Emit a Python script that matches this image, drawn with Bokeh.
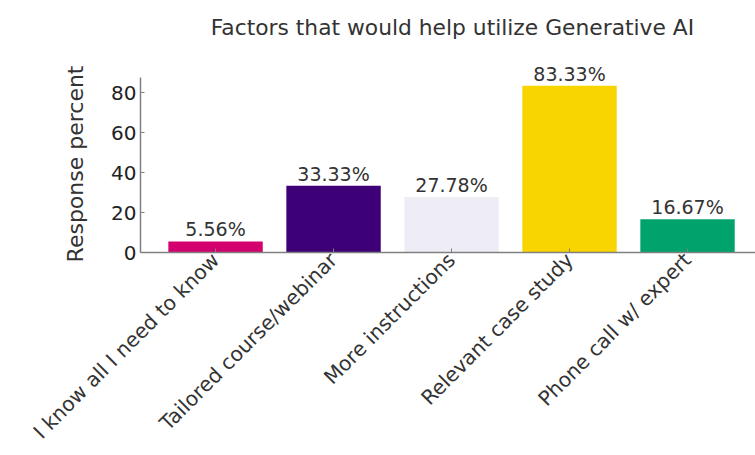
import math
from bokeh.plotting import figure
from bokeh.models import ColumnDataSource, Range1d, FixedTicker, LabelSet, Label, Title
from bokeh.core.properties import value
from bokeh.embed import file_html
from bokeh.resources import INLINE

categories = ["I know all I need to know", "Tailored course/webinar", "More instructions",
              "Relevant case study", "Phone call w/ expert"]
values = [5.56, 33.33, 27.78, 83.33, 16.67]
colors = ["#D4006E", "#3D0077", "#EEEDF5", "#F9D500", "#00A36C"]
y_ticks = [0, 20, 40, 60, 80]
title_text = "Factors that would help utilize Generative AI"
y_label = "Response percent"

xs = list(range(len(categories)))
src = ColumnDataSource(dict(
    x=xs, top=values, color=colors,
    label=[f"{v:.2f}%" for v in values],
))

FONT = "DejaVu Sans"
TXT = "#333333"

y_axis_top = max(values) * 1.05

p = figure(width=755, height=455, output_backend="svg", toolbar_location=None,
           x_range=Range1d(-0.636, 4.576), y_range=Range1d(0, 126),
           min_border_left=140, min_border_right=0, min_border_top=0, min_border_bottom=203)

p.vbar(x="x", top="top", bottom=0, width=0.8, color="color", line_color=None, source=src)

labels = LabelSet(x="x", y="top", text="label", source=src, text_align="center",
                  text_baseline="bottom", y_offset=1, text_font=value(FONT),
                  text_font_size="19px", text_color=TXT)
p.add_layout(labels)

p.add_layout(Label(x=2.008, y=112.5, text=title_text, text_align="center",
                   text_baseline="middle", text_font=FONT,
                   text_font_size="21.8px", text_color=TXT))

p.grid.visible = False
p.outline_line_color = None
p.background_fill_color = "white"
p.border_fill_color = "white"

xa = p.xaxis[0]
xa.ticker = FixedTicker(ticks=xs)
xa.major_label_overrides = {i: c for i, c in enumerate(categories)}
xa.major_label_orientation = math.pi / 4
xa.major_label_text_font = FONT
xa.major_label_text_font_size = "20.3px"
xa.major_label_text_color = TXT
xa.major_tick_in = 4
xa.major_tick_out = 0
xa.minor_tick_line_color = None
xa.axis_line_color = "#808080"
xa.axis_line_width = 1.5
xa.major_tick_line_color = "#808080"
xa.major_label_standoff = 4

ya = p.yaxis[0]
ya.ticker = FixedTicker(ticks=y_ticks)
ya.bounds = (0, y_axis_top)
ya.major_label_text_font = FONT
ya.major_label_text_font_size = "20px"
ya.major_label_text_color = "#222222"
ya.major_tick_in = 4
ya.major_tick_out = 0
ya.minor_tick_line_color = None
ya.axis_line_color = "#808080"
ya.axis_line_width = 1.5
ya.major_tick_line_color = "#808080"
ya.major_label_standoff = 4

p.add_layout(Title(text=y_label, align="right", offset=65, text_font=FONT,
                   text_font_size="22px", text_font_style="normal",
                   text_color=TXT, standoff=41), "left")

open("out.html", "w").write(file_html(p, INLINE))
